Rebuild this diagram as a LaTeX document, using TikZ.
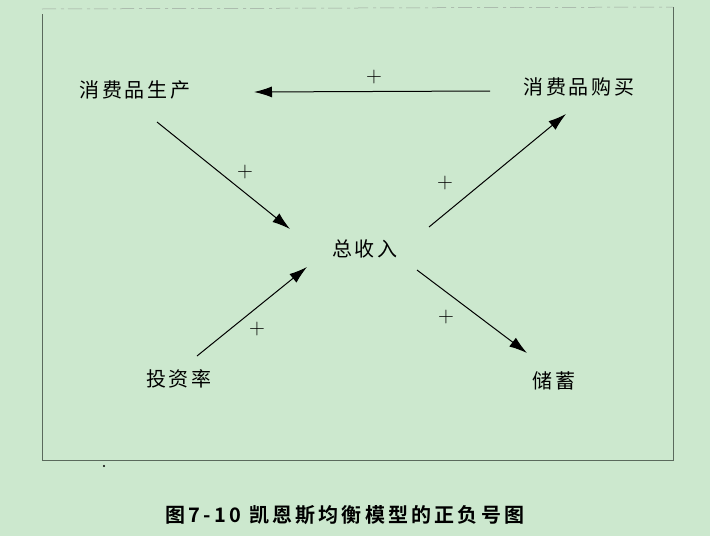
\documentclass[tikz,border=0pt]{standalone}
\usepackage{fontspec}
\usetikzlibrary{calc, arrows.meta, positioning}
\newfontfamily\cjklabel{Noto Sans CJK SC}[LetterSpace=14]
\newfontfamily\cjkcap{Noto Sans CJK SC}[UprightFont=* Bold, LetterSpace=16]
\definecolor{paper}{RGB}{204,232,206}
\definecolor{frameline}{RGB}{90,105,92}

\begin{document}
\begin{tikzpicture}[x=1pt, y=-1pt, >={Latex[length=18pt,width=11pt]}]
				\tikzstyle{label} = [draw=none, inner sep=0pt, font=\cjklabel\fontsize{20}{20}\selectfont]
				\tikzstyle{sign} = [draw=none, inner sep=0pt, font=\fontsize{22}{22}\selectfont]
				\tikzstyle{link} = [line width=1pt]
				
				% page and frame
				\fill[paper] (0,0) rectangle (710,536);
				\useasboundingbox (0,0) rectangle (710,536);
				\draw[frameline, line width=0.6pt] (673,7) -- (673,460) -- (42,460) -- (42,14);
				\draw[frameline!60, line width=0.5pt, dash pattern=on 14pt off 5pt on 3pt off 4pt] (42,9) -- (673,7);
				\fill[black] (104,466) circle (1.2pt);
				
				\node[label] 	at (135, 90) 	(prod) 	{消费品生产};
				\node[label] 	at (579, 87)	(buy) 	{消费品购买};
				\node[label] 	at (365, 249)	(inc) 	{总收入};
				\node[label] 	at (179, 379) 	(rate) 	{投资率};
				\node[label] 	at (554, 381) 	(save) 	{储蓄};
				
				\node[sign]	at (374, 77)	(p1)	{+};
				\node[sign]	at (245, 172)	(p2)	{+};
				\node[sign]	at (445, 183)	(p3)	{+};
				\node[sign]	at (257, 329)	(p4)	{+};
				\node[sign]	at (446, 317)	(p5)	{+};
				
				\path[->, link]
				($(buy)+(-89,4)$)	edge	($(prod)+(119,2)$)
				($(prod)+(22,32)$)	edge	($(inc)+(-75,-20)$)
				($(inc)+(64,-22)$)	edge	($(buy)+(-13,27)$)
				($(rate)+(18,-23)$)	edge	($(inc)+(-58,18)$)
				($(inc)+(52,21)$)	edge	($(save)+(-27,-28)$);
				
				\node[draw=none, font=\cjkcap\fontsize{20}{20}\selectfont] at (345, 515) (caption) {图7-10 凯恩斯均衡模型的正负号图};
\end{tikzpicture}
\end{document}
